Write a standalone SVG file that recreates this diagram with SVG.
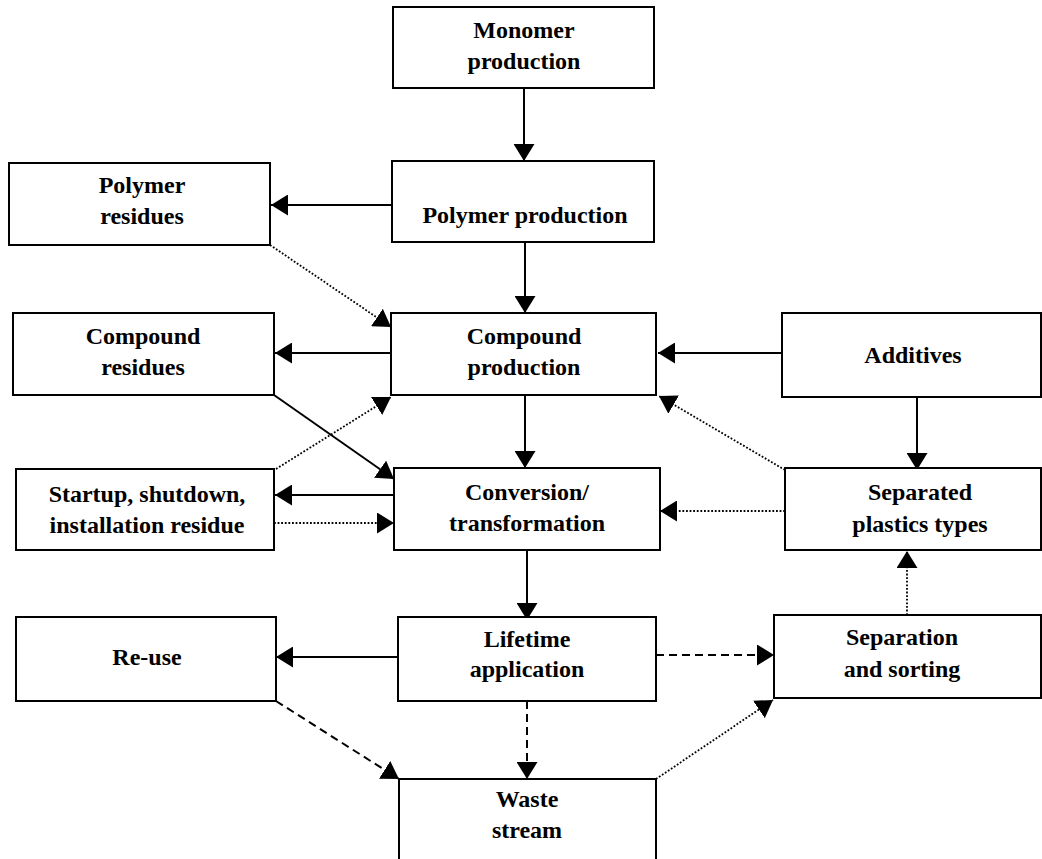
<svg xmlns="http://www.w3.org/2000/svg" width="1042" height="859" viewBox="0 0 1042 859">
<style>
.box{fill:#fff;stroke:#000;stroke-width:2}
.t{font-family:"Liberation Serif","Times New Roman",serif;font-weight:bold;font-size:24px;fill:#000;text-anchor:middle}
.s{fill:none;stroke:#000;stroke-width:2}
.d{fill:none;stroke:#000;stroke-width:2;stroke-dasharray:8 5}
.o{fill:none;stroke:#000;stroke-width:1.8;stroke-dasharray:1.8 1.8}
</style>
<defs>
<marker id="ah" markerWidth="17" markerHeight="21" refX="17" refY="10.5" orient="auto" markerUnits="userSpaceOnUse" viewBox="0 0 17 21"><path d="M0,0 L17,10.5 L0,21 z" fill="#000"/></marker>
</defs>
<rect width="1042" height="859" fill="#fff"/>
<g id="connectors">
<path class="s" d="M524,88 V161" marker-end="url(#ah)"/>
<path class="s" d="M392,205 H271" marker-end="url(#ah)"/>
<path class="o" d="M270,245 L391,327" marker-end="url(#ah)"/>
<path class="s" d="M525,242 V313" marker-end="url(#ah)"/>
<path class="s" d="M391,353 H275" marker-end="url(#ah)"/>
<path class="s" d="M782,353 H658" marker-end="url(#ah)"/>
<path class="s" d="M274,395 L394,479" marker-end="url(#ah)"/>
<path class="o" d="M276,469 L391,397" marker-end="url(#ah)"/>
<path class="s" d="M525,395 V468" marker-end="url(#ah)"/>
<path class="s" d="M917,397 V470" marker-end="url(#ah)"/>
<path class="o" d="M785,470 L659,396" marker-end="url(#ah)"/>
<path class="s" d="M394,495 H275" marker-end="url(#ah)"/>
<path class="o" d="M274,523 H394" marker-end="url(#ah)"/>
<path class="o" d="M785,511 H660" marker-end="url(#ah)"/>
<path class="s" d="M527,550 V620" marker-end="url(#ah)"/>
<path class="s" d="M398,657 H276" marker-end="url(#ah)"/>
<path class="d" d="M656,655 H774" marker-end="url(#ah)"/>
<path class="d" d="M527,701 V779" marker-end="url(#ah)"/>
<path class="d" d="M276,701 L399,779" marker-end="url(#ah)"/>
<path class="o" d="M656,779 L773,700" marker-end="url(#ah)"/>
<path class="o" d="M907,615 V551" marker-end="url(#ah)"/>
</g>
<g id="monomer"><rect class="box" x="393" y="7" width="261" height="81"/><text class="t" x="524" y="38">Monomer</text><text class="t" x="524" y="69">production</text></g>
<g id="polymer-production"><rect class="box" x="392" y="161" width="262" height="81"/><text class="t" x="525" y="223">Polymer production</text></g>
<g id="polymer-residues"><rect class="box" x="9" y="163" width="261" height="82"/><text class="t" x="142" y="193">Polymer</text><text class="t" x="142" y="224">residues</text></g>
<g id="compound-residues"><rect class="box" x="13" y="313" width="261" height="82"/><text class="t" x="143" y="344">Compound</text><text class="t" x="143" y="375">residues</text></g>
<g id="compound-production"><rect class="box" x="391" y="313" width="265" height="82"/><text class="t" x="524" y="344">Compound</text><text class="t" x="524" y="375">production</text></g>
<g id="additives"><rect class="box" x="782" y="313" width="259" height="84"/><text class="t" x="913" y="363">Additives</text></g>
<g id="startup"><rect class="box" x="16" y="469" width="258" height="81"/><text class="t" x="147" y="502">Startup, shutdown,</text><text class="t" x="147" y="533">installation residue</text></g>
<g id="conversion"><rect class="box" x="394" y="468" width="266" height="82"/><text class="t" x="527" y="500">Conversion/</text><text class="t" x="527" y="531">transformation</text></g>
<g id="separated"><rect class="box" x="785" y="468" width="256" height="82"/><text class="t" x="920" y="500">Separated</text><text class="t" x="920" y="532">plastics types</text></g>
<g id="reuse"><rect class="box" x="16" y="617" width="260" height="84"/><text class="t" x="147" y="665">Re-use</text></g>
<g id="lifetime"><rect class="box" x="398" y="617" width="258" height="84"/><text class="t" x="527" y="647">Lifetime</text><text class="t" x="527" y="677">application</text></g>
<g id="separation"><rect class="box" x="774" y="615" width="267" height="83"/><text class="t" x="902" y="645">Separation</text><text class="t" x="902" y="677">and sorting</text></g>
<g id="waste"><rect class="box" x="399" y="779" width="257" height="100"/><text class="t" x="527" y="807">Waste</text><text class="t" x="527" y="838">stream</text></g>
</svg>
